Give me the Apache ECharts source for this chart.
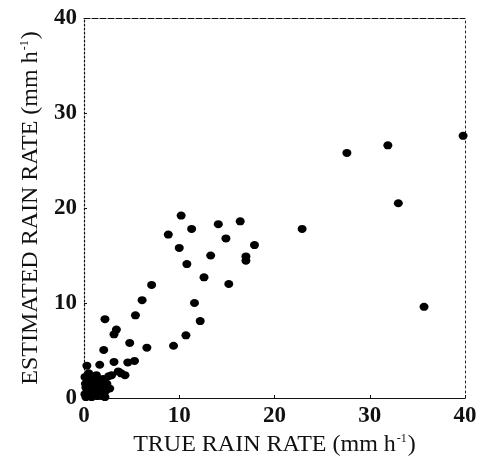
<!DOCTYPE html>
<html>
<head>
<meta charset="utf-8">
<script src="https://cdn.jsdelivr.net/npm/echarts@6/dist/echarts.min.js"></script>
<style>
  html, body { margin: 0; padding: 0; background: #fff; }
  #chart { width: 483px; height: 466px; }
</style>
</head>
<body>
<div id="chart"></div>
<script>
// True vs. estimated rain rate (mm h-1), one pair per sample
var trueRate = [
  39.8, 27.6, 31.9, 33.0, 35.7, 22.9,
  10.2, 8.85, 11.3, 14.1, 16.4, 14.9, 17.9, 10.0, 13.3, 17.0, 17.0, 10.8,
  12.6, 15.2, 7.1, 11.6, 12.2, 10.7, 9.4,
  6.1, 5.4, 2.2, 3.4, 3.15, 4.8, 6.6, 2.07,
  0.3, 1.65, 3.15, 4.6, 5.3, 3.6, 4.3, 2.9, 3.9,
  0.2, 0.5, 0.8, 1.1, 1.4, 0.3, 0.7, 1.0, 1.3, 1.7, 0.2, 0.6, 0.9, 1.2, 1.6,
  0.4, 0.8, 1.1, 1.5, 0.3, 0.7, 1.0, 1.4, 1.8, 2.1, 2.3, 2.2, 1.9, 0.1, 0.5,
  1.3, 2.0, 2.6, 0.15, 1.9, 2.4, 2.7, 0.1, 0.45
];
var estRate = [
  27.6, 25.8, 26.6, 20.5, 9.6, 17.8,
  19.2, 17.2, 17.8, 18.3, 18.6, 16.8, 16.1, 15.8, 15.0, 14.9, 14.45, 14.1,
  12.7, 12.0, 11.9, 10.0, 8.1, 6.6, 5.5,
  10.3, 8.7, 8.3, 7.2, 6.7, 5.8, 5.3, 5.05,
  3.4, 3.5, 3.8, 3.75, 3.9, 2.8, 2.4, 2.4, 2.6,
  0.1, 0.2, 0.1, 0.3, 0.2, 0.6, 0.5, 0.8, 0.6, 0.4, 1.1, 1.0, 1.3, 1.1, 0.9,
  1.6, 1.8, 1.6, 1.4, 2.1, 2.3, 2.1, 1.9, 1.6, 1.2, 0.8, 0.1, 0.2, 0.4, 2.6,
  2.4, 2.0, 2.3, 1.5, 1.1, 1.5, 1.0, 2.2, 1.3
];
var axisTicks = [0, 10, 20, 30, 40];

var points = trueRate.map(function (v, i) { return [v, estRate[i]]; });

var serif = '"Liberation Serif", "DejaVu Serif", serif';
var titleRich = {
  a: { fontFamily: serif, fontSize: 24, color: '#111' },
  s: { fontFamily: serif, fontSize: 12, color: '#111', verticalAlign: 'top', padding: [0, 1, 10, 1] }
};
var tickLabel = {
  fontFamily: serif, fontSize: 23, fontWeight: 'bold', color: '#111', margin: 7,
  formatter: function (v) { return axisTicks.indexOf(v) >= 0 ? String(v) : ''; }
};

var chart = echarts.init(document.getElementById('chart'), null, { renderer: 'canvas' });
chart.setOption({
  backgroundColor: '#fff',
  animation: false,
  grid: { left: 84, right: 18, top: 18, bottom: 68, containLabel: false },
  xAxis: [{
    type: 'value', min: 0, max: 40, interval: 10, position: 'bottom',
    name: '{a|TRUE RAIN RATE (mm h}{s|-1}{a|)}',
    nameLocation: 'middle', nameGap: 32,
    nameTextStyle: { rich: titleRich },
    axisLine: { show: true, onZero: false, lineStyle: { color: '#111', width: 1.2 } },
    axisTick: { show: true, inside: true, length: 3, lineStyle: { color: '#111' } },
    axisLabel: tickLabel,
    splitLine: { show: false }
  }, {
    type: 'value', min: 0, max: 40, interval: 10, position: 'top',
    axisLine: { show: true, onZero: false, lineStyle: { color: '#111', width: 1.2, type: [6, 2] } },
    axisTick: { show: false }, axisLabel: { show: false }, splitLine: { show: false }
  }],
  yAxis: [{
    type: 'value', min: 0, max: 40, interval: 10, position: 'left',
    name: '{a|ESTIMATED RAIN RATE (mm h}{s|-1}{a|)}',
    nameLocation: 'middle', nameGap: 38, nameRotate: 90,
    nameTextStyle: { rich: titleRich },
    axisLine: { show: true, onZero: false, lineStyle: { color: '#111', width: 1.2, type: [2, 2] } },
    axisTick: { show: true, inside: true, length: 3, lineStyle: { color: '#111' } },
    axisLabel: tickLabel,
    splitLine: { show: false }
  }, {
    type: 'value', min: 0, max: 40, interval: 10, position: 'right',
    axisLine: { show: true, onZero: false, lineStyle: { color: '#222', width: 1, type: [2, 3] } },
    axisTick: { show: false }, axisLabel: { show: false }, splitLine: { show: false }
  }],
  series: [{
    type: 'scatter',
    xAxisIndex: 0, yAxisIndex: 0,
    data: points,
    symbol: 'circle',
    symbolSize: [9, 8],
    itemStyle: { color: '#000', opacity: 1 },
    clip: false
  }]
});
</script>
</body>
</html>
